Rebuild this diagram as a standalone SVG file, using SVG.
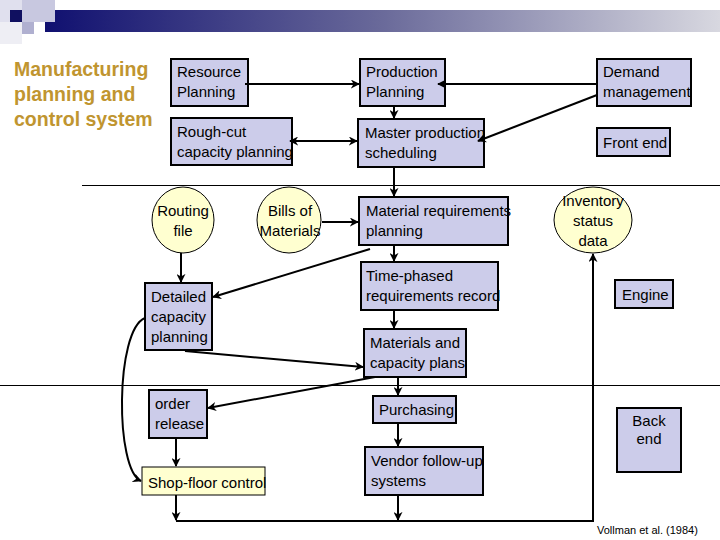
<svg xmlns="http://www.w3.org/2000/svg" width="720" height="540" viewBox="0 0 720 540">
<defs>
<linearGradient id="bar" x1="0" x2="1" y1="0" y2="0"><stop offset="0" stop-color="#101070"/><stop offset="0.5" stop-color="#6a6a9a"/><stop offset="1" stop-color="#d8d8e0"/></linearGradient>
<marker id="a" viewBox="0 0 10 10" refX="9" refY="5" markerWidth="9" markerHeight="9" markerUnits="userSpaceOnUse" orient="auto-start-reverse"><path d="M0,0 L10,5 L0,10 L3,5 z" fill="#000"/></marker>
<style>
.b{fill:#ccccea;stroke:#000;stroke-width:2}
.y{fill:#ffffd0;stroke:#000;stroke-width:1}
.t{font-family:"Liberation Sans",Arial,sans-serif;font-size:15px;fill:#000}
.c{stroke:#000;stroke-width:2;fill:none}
.l{stroke:#000;stroke-width:1}
</style>
</defs>
<rect width="720" height="540" fill="#fff"/>
<rect x="45" y="10" width="675" height="22" fill="url(#bar)"/>
<rect x="0" y="0" width="22" height="22" fill="#e0e0ee"/>
<rect x="22" y="0" width="33" height="22" fill="#c8c8e0"/>
<rect x="10" y="10" width="12" height="12" fill="#101060"/>
<rect x="22" y="22" width="12" height="12" fill="#b0b0d0"/>
<rect x="0" y="22" width="22" height="22" fill="#eeeef4"/>
<text font-family="Liberation Sans,Arial,sans-serif" font-weight="bold" font-size="19.5" fill="#c09530"><tspan x="14" y="76">Manufacturing</tspan><tspan x="14" y="101">planning and</tspan><tspan x="14" y="126">control system</tspan></text>
<line class="l" x1="82" y1="185.5" x2="720" y2="185.5"/>
<line class="l" x1="0" y1="385.5" x2="720" y2="385.5"/>
<g id="resource"><rect class="b" x="171" y="59" width="77" height="47"/><text class="t"><tspan x="177" y="77">Resource</tspan><tspan x="177" y="97">Planning</tspan></text></g>
<g id="roughcut"><rect class="b" x="171" y="118" width="121" height="47"/><text class="t"><tspan x="177" y="137">Rough-cut</tspan><tspan x="177" y="157">capacity planning</tspan></text></g>
<g id="production"><rect class="b" x="360" y="59" width="85" height="47"/><text class="t"><tspan x="366" y="77">Production</tspan><tspan x="366" y="97">Planning</tspan></text></g>
<g id="master"><rect class="b" x="358" y="119" width="126" height="48"/><text class="t"><tspan x="365" y="138">Master production</tspan><tspan x="365" y="158">scheduling</tspan></text></g>
<g id="demand"><rect class="b" x="597" y="59" width="94" height="47"/><text class="t"><tspan x="603" y="77">Demand</tspan><tspan x="603" y="97">management</tspan></text></g>
<g id="frontend"><rect class="b" x="597" y="128" width="73" height="28"/><text class="t" x="603" y="148">Front end</text></g>
<g id="routing"><ellipse class="y" cx="183" cy="220" rx="31" ry="33"/><text class="t" text-anchor="middle"><tspan x="183" y="216">Routing</tspan><tspan x="183" y="236">file</tspan></text></g>
<g id="bills"><ellipse class="y" cx="289" cy="220" rx="32" ry="33"/><text class="t" text-anchor="middle"><tspan x="290" y="216">Bills of</tspan><tspan x="290" y="236">Materials</tspan></text></g>
<g id="mrp"><rect class="b" x="359" y="197" width="149" height="48"/><text class="t"><tspan x="366" y="216">Material requirements</tspan><tspan x="366" y="236">planning</tspan></text></g>
<g id="inventory"><ellipse class="y" cx="593" cy="220" rx="39" ry="33"/><text class="t" text-anchor="middle"><tspan x="593" y="206">Inventory</tspan><tspan x="593" y="226">status</tspan><tspan x="593" y="246">data</tspan></text></g>
<g id="timephased"><rect class="b" x="361" y="262" width="137" height="48"/><text class="t"><tspan x="366" y="281">Time-phased</tspan><tspan x="366" y="301">requirements record</tspan></text></g>
<g id="engine"><rect class="b" x="615" y="280" width="58" height="28"/><text class="t" x="622" y="300">Engine</text></g>
<g id="detailed"><rect class="b" x="145" y="283" width="67" height="67"/><text class="t"><tspan x="151" y="302">Detailed</tspan><tspan x="151" y="322">capacity</tspan><tspan x="151" y="342">planning</tspan></text></g>
<g id="matcap"><rect class="b" x="364" y="329" width="102" height="48"/><text class="t"><tspan x="370" y="348">Materials and</tspan><tspan x="370" y="368">capacity plans</tspan></text></g>
<g id="orderrelease"><rect class="b" x="149" y="390" width="58" height="48"/><text class="t"><tspan x="155" y="409">order</tspan><tspan x="155" y="429">release</tspan></text></g>
<g id="purchasing"><rect class="b" x="373" y="396" width="83" height="27"/><text class="t" x="379" y="415">Purchasing</text></g>
<g id="backend"><rect class="b" x="617" y="408" width="64" height="64"/><text class="t" text-anchor="middle"><tspan x="649" y="426">Back</tspan><tspan x="649" y="444">end</tspan></text></g>
<g id="shopfloor"><rect class="y" x="142" y="467" width="123" height="28" stroke-width="2"/><text class="t" x="148" y="488">Shop-floor control</text></g>
<g id="vendor"><rect class="b" x="365" y="447" width="118" height="48"/><text class="t"><tspan x="371" y="466">Vendor follow-up</tspan><tspan x="371" y="486">systems</tspan></text></g>
<text font-family="Liberation Sans,Arial,sans-serif" font-size="11" x="597" y="534">Vollman et al. (1984)</text>
<g id="connectors">
<line class="c" x1="245" y1="84" x2="359" y2="84" marker-end="url(#a)"/>
<line class="c" x1="290" y1="141" x2="357" y2="141" marker-start="url(#a)" marker-end="url(#a)"/>
<line class="c" x1="597" y1="84" x2="438" y2="84" marker-end="url(#a)"/>
<line class="c" x1="597" y1="95" x2="478" y2="141" marker-end="url(#a)"/>
<line class="c" x1="394" y1="106" x2="394" y2="118" marker-end="url(#a)"/>
<line class="c" x1="394" y1="167" x2="394" y2="196" marker-end="url(#a)"/>
<line class="c" x1="394" y1="245" x2="394" y2="261" marker-end="url(#a)"/>
<line class="c" x1="394" y1="310" x2="394" y2="328" marker-end="url(#a)"/>
<line class="c" x1="398" y1="377" x2="398" y2="395" marker-end="url(#a)"/>
<line class="c" x1="398" y1="423" x2="398" y2="446" marker-end="url(#a)"/>
<line class="c" x1="398" y1="495" x2="398" y2="520" marker-end="url(#a)"/>
<line class="c" x1="322" y1="222" x2="358" y2="222" marker-end="url(#a)"/>
<line class="c" x1="370" y1="249" x2="213" y2="297" marker-end="url(#a)"/>
<line class="c" x1="181" y1="253" x2="181" y2="282" marker-end="url(#a)"/>
<line class="c" x1="185" y1="351" x2="363" y2="367" marker-end="url(#a)"/>
<line class="c" x1="375" y1="377" x2="208" y2="408" marker-end="url(#a)"/>
<line class="c" x1="176" y1="438" x2="176" y2="466" marker-end="url(#a)"/>
<path class="c" d="M145,318 C115,330 115,470 141,481" marker-end="url(#a)"/>
<line class="c" x1="176" y1="495" x2="176" y2="520" marker-end="url(#a)"/>
<path class="c" d="M176,521 H593 V254" marker-end="url(#a)"/>
</g>
</svg>
